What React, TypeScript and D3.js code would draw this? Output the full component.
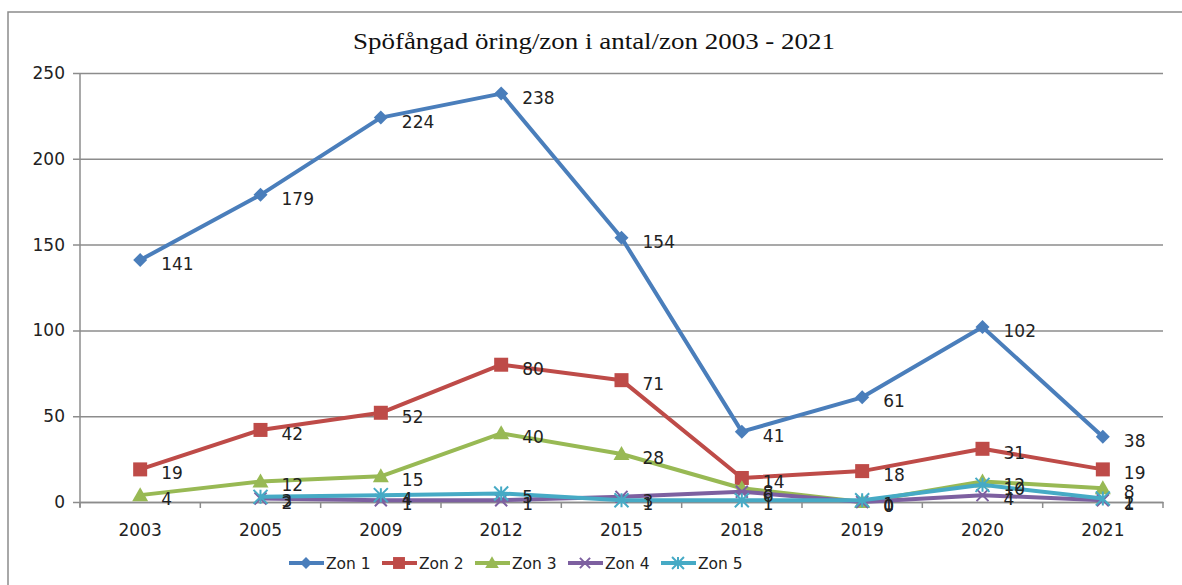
import React, { useRef, useEffect } from 'react';
import * as d3 from 'd3';

const years = ['2003', '2005', '2009', '2012', '2015', '2018', '2019', '2020', '2021'];
const zon1 = [141, 179, 224, 238, 154, 41, 61, 102, 38];
const zon2 = [19, 42, 52, 80, 71, 14, 18, 31, 19];
const zon3 = [4, 12, 15, 40, 28, 8, 0, 12, 8];
const zon4 = [null, 2, 1, 1, 3, 6, 0, 4, 1];
const zon5 = [null, 3, 4, 5, 1, 1, 1, 10, 2];
const yTicks = [0, 50, 100, 150, 200, 250];
const seriesNames = ['Zon 1', 'Zon 2', 'Zon 3', 'Zon 4', 'Zon 5'];
const colors = ['#4a7ebb', '#be4b48', '#98b954', '#7d60a0', '#46aac5'];
const shapes = ['diamond', 'square', 'triangle', 'x', 'star'];
const title = 'Spöfångad öring/zon i antal/zon 2003  - 2021';

const W = 1182;
const H = 585;
const font = 'DejaVu Sans, sans-serif';
const fs = 17;

function drawMarker(g, shape, color, x, y, s = 1) {
  if (shape === 'diamond') {
    g.append('path').attr('d', `M${x},${y - 7 * s}L${x + 7 * s},${y}L${x},${y + 7 * s}L${x - 7 * s},${y}Z`).attr('fill', color);
  } else if (shape === 'square') {
    g.append('rect').attr('x', x - 7 * s).attr('y', y - 7 * s).attr('width', 14 * s).attr('height', 14 * s).attr('fill', color);
  } else if (shape === 'triangle') {
    g.append('path').attr('d', `M${x},${y - 8 * s}L${x + 8 * s},${y + 6 * s}L${x - 8 * s},${y + 6 * s}Z`).attr('fill', color);
  } else if (shape === 'x') {
    const r = 6 * s;
    g.append('path').attr('d', `M${x - r},${y - r}L${x + r},${y + r}M${x - r},${y + r}L${x + r},${y - r}`)
      .attr('stroke', color).attr('stroke-width', 2);
  } else {
    const r = 7 * s;
    g.append('path').attr('d', `M${x - r},${y - r}L${x + r},${y + r}M${x - r},${y + r}L${x + r},${y - r}M${x},${y - r}L${x},${y + r}`)
      .attr('stroke', color).attr('stroke-width', 2);
  }
}

const App = () => {
  const ref = useRef(null);

  useEffect(() => {
    const svg = d3.select(ref.current);
    svg.selectAll('*').remove();

    const left = 80, right = 1163, top = 73, bottom = 502;
    const x = d3.scaleBand().domain(years).range([left, right]);
    const y = d3.scaleLinear().domain([0, 250]).range([bottom, top]);

    // frame
    svg.append('path').attr('d', `M8,${H}L8,12L${W},12`).attr('fill', 'none').attr('stroke', '#8c8c8c').attr('stroke-width', 1.5);

    svg.append('text').attr('x', 594).attr('y', 49).attr('text-anchor', 'middle')
      .attr('font-family', 'Liberation Serif, serif').attr('font-size', 23).attr('fill', '#111')
      .attr('textLength', 482).attr('lengthAdjust', 'spacingAndGlyphs')
      .text(title);

    // grid + y axis
    const ya = svg.append('g').attr('transform', `translate(${left},0)`)
      .call(d3.axisLeft(y).tickValues(yTicks).tickSize(-(right - left)).tickPadding(15));
    ya.select('.domain').remove();
    ya.selectAll('.tick line').attr('stroke', '#8c8c8c').attr('stroke-width', 1.5).attr('x1', -7);
    ya.selectAll('.tick text').attr('font-family', font).attr('font-size', fs).attr('fill', '#222');
    svg.append('line').attr('x1', left).attr('x2', left).attr('y1', top).attr('y2', bottom + 5)
      .attr('stroke', '#8c8c8c').attr('stroke-width', 1.5);

    // x axis
    const xa = svg.append('g').attr('transform', `translate(0,${bottom})`)
      .call(d3.axisBottom(x).tickSize(0).tickPadding(22));
    xa.select('.domain').attr('stroke', '#8c8c8c').attr('stroke-width', 1.5);
    xa.selectAll('.tick text').attr('font-family', font).attr('font-size', fs).attr('fill', '#222');
    const bounds = years.map(yr => x(yr)).concat([right]);
    xa.selectAll('line.bnd').data(bounds).enter().append('line')
      .attr('x1', d => d).attr('x2', d => d).attr('y1', 0).attr('y2', 6)
      .attr('stroke', '#8c8c8c').attr('stroke-width', 1.5);

    const all = [zon1, zon2, zon3, zon4, zon5];
    const cx = yr => x(yr) + x.bandwidth() / 2;
    const line = d3.line()
      .defined(d => d.v !== null)
      .x(d => cx(d.yr))
      .y(d => y(d.v));

    all.forEach((vals, i) => {
      const pts = vals.map((v, j) => ({ yr: years[j], v }));
      const g = svg.append('g');
      g.append('path').datum(pts).attr('d', line).attr('fill', 'none')
        .attr('stroke', colors[i]).attr('stroke-width', 4).attr('stroke-linejoin', 'round');
      pts.filter(p => p.v !== null).forEach(p => drawMarker(g, shapes[i], colors[i], cx(p.yr), y(p.v)));
    });

    all.forEach((vals, i) => {
      vals.forEach((v, j) => {
        if (v === null) return;
        svg.append('text').attr('x', cx(years[j]) + 21).attr('y', y(v) + 10)
          .attr('font-family', font).attr('font-size', fs).attr('fill', '#222').text(v);
      });
    });

    // legend
    const lg = svg.append('g');
    seriesNames.forEach((name, i) => {
      const lx = 289 + i * 93;
      const ly = 563;
      lg.append('line').attr('x1', lx).attr('x2', lx + 35).attr('y1', ly).attr('y2', ly)
        .attr('stroke', colors[i]).attr('stroke-width', 4);
      drawMarker(lg, shapes[i], colors[i], lx + 17, ly, 0.85);
      lg.append('text').attr('x', lx + 37).attr('y', ly + 6).attr('font-family', font)
        .attr('font-size', 15.5).attr('fill', '#222').text(name);
    });
  }, []);

  return (
    <div style={{ position: 'absolute', left: 0, top: 0 }}>
      <svg ref={ref} width={W} height={H} style={{ display: 'block', background: '#fff' }} />
    </div>
  );
};

export default App;
